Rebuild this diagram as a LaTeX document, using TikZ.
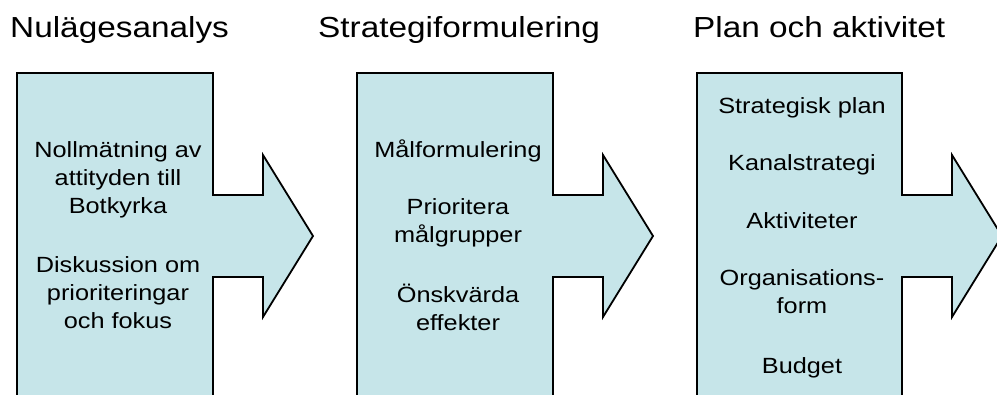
\documentclass[tikz,border=0pt]{standalone}
\usepackage{fontspec}
\setmainfont{Liberation Sans}[FakeStretch=1.15]
\usetikzlibrary{positioning}
\definecolor{stagefill}{RGB}{198,229,233}
\tikzset{
    stagebody/.style={draw=black, line width=1.8pt, line join=miter, fill=stagefill}, % the box with its arrow
    title/.style={anchor=base west, inner sep=0pt, font=\fontsize{29}{35}\selectfont},
    item/.style={anchor=base, inner sep=0pt, align=center, font=\fontsize{22}{28}\selectfont}, % base = last line
}

\begin{document}
\begin{tikzpicture}[x=1pt,y=-1pt]
  \useasboundingbox (0,0) rectangle (997,394);
  \clip (0,0) rectangle (997,394);

  % the three stages: left edge / right edge of the box
  \foreach \l/\r in {17/213, 357/553, 697/902}
    \draw[stagebody] (\l,410) -- (\l,73) -- (\r,73) -- (\r,195) -- (\r+50,195)
      -- (\r+50,155) -- (\r+100,236) -- (\r+50,317) -- (\r+50,277) -- (\r,277)
      -- (\r,410) -- cycle;

  % titles
  \node[title] (nulage)   at (10,37)  {Nulägesanalys};
  \node[title] (strategi) at (318,37) {Strategiformulering};
  \node[title] (plan)     at (693,37) {Plan och aktivitet};

  % Nulägesanalys
  \node[item] (noll) at (118,213) {Nollmätning av\\attityden till\\Botkyrka};
  \node[item] (disk) at (118,328) {Diskussion om\\prioriteringar\\och fokus};

  % Strategiformulering
  \node[item] (mal)  at (458,157) {Målformulering};
  \node[item] (prio) at (458,242) {Prioritera\\målgrupper};
  \node[item] (onsk) at (458,330) {Önskvärda\\effekter};

  % Plan och aktivitet
  \node[item] (strat)  at (802,113) {Strategisk plan};
  \node[item] (kanal)  at (802,170) {Kanalstrategi};
  \node[item] (akt)    at (802,228) {Aktiviteter};
  \node[item] (org)    at (802,313) {Organisations-\\form};
  \node[item] (budget) at (802,373) {Budget};
\end{tikzpicture}
\end{document}
